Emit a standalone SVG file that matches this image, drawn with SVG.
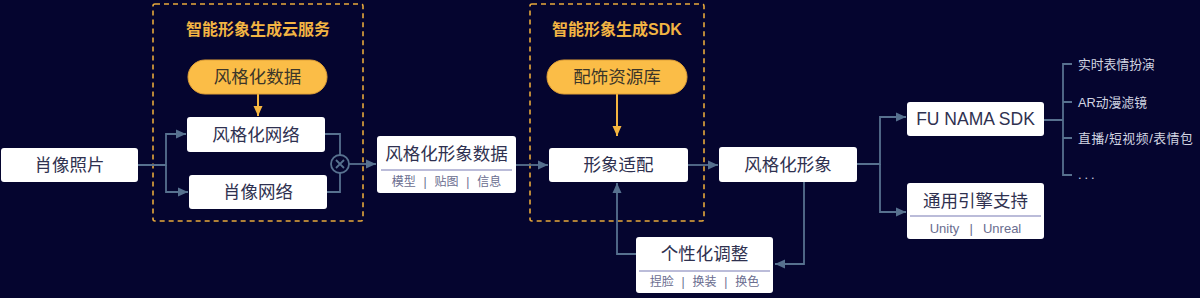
<svg xmlns="http://www.w3.org/2000/svg" width="1200" height="298" viewBox="0 0 1200 298">
<defs>
<marker id="arr" viewBox="0 0 10 10" refX="10" refY="5" markerWidth="10" markerHeight="10" markerUnits="userSpaceOnUse" orient="auto">
<path d="M0,0.5 L10,5 L0,9.5 Z" fill="#57718f"/>
</marker>
<marker id="arrO" viewBox="0 0 10 10" refX="10" refY="5" markerWidth="10" markerHeight="10" markerUnits="userSpaceOnUse" orient="auto">
<path d="M0,0.5 L10,5 L0,9.5 Z" fill="#f4b540"/>
</marker>
</defs>
<style>
text{font-family:"Liberation Sans","Noto Sans CJK SC",sans-serif;dominant-baseline:central;text-anchor:middle}
.box{fill:#ffffff;}
.pill{fill:#fbbd47;stroke:#e2a136;stroke-width:1}
.dash{fill:none;stroke:#e7a93b;stroke-width:1.6;stroke-dasharray:5 4}
.t{font-size:17.5px;fill:#2f3150}
.pt{font-size:17.5px;fill:#3c3629}
.gt{font-size:16px;font-weight:bold;fill:#f2b443}
.sub{font-size:12px;fill:#6a6d8f;word-spacing:4.5px}
.subl{font-size:13px;fill:#6a6d8f;word-spacing:6.5px}
.div{stroke:#a4a6cc;stroke-width:1.5}
.c{fill:none;stroke:#57718f;stroke-width:1.8}
.co{fill:none;stroke:#f4b540;stroke-width:2}
.li{font-size:12.8px;fill:#d2d5e2;text-anchor:start}
</style>
<rect width="1200" height="298" fill="#05052f"/>

<g id="cloud-group">
<rect class="dash" x="153" y="4" width="210" height="217" rx="2"/>
<text class="gt" x="258" y="29">智能形象生成云服务</text>
</g>
<g id="sdk-group">
<rect class="dash" x="530" y="4" width="174" height="217" rx="2"/>
<text class="gt" x="617" y="29">智能形象生成SDK</text>
</g>

<g id="connectors">
<path class="c" d="M138,165 H166 V134 H186" marker-end="url(#arr)"/>
<path class="c" d="M166,165 V192 H188" marker-end="url(#arr)"/>
<path class="c" d="M325,134 H340 V155"/>
<path class="c" d="M327,192 H340 V173"/>
<circle class="c" cx="340" cy="164" r="9"/>
<path class="c" d="M336,160 L344,168 M344,160 L336,168"/>
<path class="c" d="M349,164 H376" marker-end="url(#arr)"/>
<path class="co" d="M258,94 V116" marker-end="url(#arrO)"/>
<path class="c" d="M516,165 H548" marker-end="url(#arr)"/>
<path class="co" d="M617,94 V136" marker-end="url(#arrO)"/>
<path class="c" d="M688,165 H718" marker-end="url(#arr)"/>
<path class="c" d="M857,164 H880 V117 H906" marker-end="url(#arr)"/>
<path class="c" d="M880,164 V212 H906" marker-end="url(#arr)"/>
<path class="c" d="M804,182 V264 H775" marker-end="url(#arr)"/>
<path class="c" d="M636,254 H617 V183" marker-end="url(#arr)"/>
<path class="c" d="M1044,120 H1063 M1072,64 H1063 V175 H1072 M1063,102 H1072 M1063,138 H1072"/>
</g>

<g id="portrait-photo">
<rect class="box" x="1" y="148" width="137" height="34" rx="3"/>
<text class="t" x="69.5" y="165">肖像照片</text>
</g>
<g id="style-data">
<rect class="pill" x="188" y="60" width="139" height="34" rx="17"/>
<text class="pt" x="257.5" y="77">风格化数据</text>
</g>
<g id="style-net">
<rect class="box" x="187" y="117" width="138" height="35" rx="3"/>
<text class="t" x="256" y="134.5">风格化网络</text>
</g>
<g id="portrait-net">
<rect class="box" x="189" y="175" width="138" height="34" rx="3"/>
<text class="t" x="258" y="192">肖像网络</text>
</g>
<g id="style-avatar-data">
<rect class="box" x="377" y="136" width="139" height="57" rx="3"/>
<text class="t" x="446.5" y="154">风格化形象数据</text>
<line class="div" x1="381" y1="170" x2="512" y2="170"/>
<text class="sub" x="446.5" y="182">模型 | 贴图 | 信息</text>
</g>
<g id="accessory-lib">
<rect class="pill" x="547" y="60" width="140" height="34" rx="17"/>
<text class="pt" x="617" y="77">配饰资源库</text>
</g>
<g id="avatar-adapt">
<rect class="box" x="549" y="148" width="139" height="34" rx="3"/>
<text class="t" x="618.5" y="165">形象适配</text>
</g>
<g id="style-avatar">
<rect class="box" x="719" y="147" width="138" height="35" rx="3"/>
<text class="t" x="788" y="164.5">风格化形象</text>
</g>
<g id="personalize">
<rect class="box" x="636" y="237" width="137" height="56" rx="3"/>
<text class="t" x="704.5" y="254">个性化调整</text>
<line class="div" x1="639" y1="271" x2="770" y2="271"/>
<text class="sub" x="704.5" y="282">捏脸 | 换装 | 换色</text>
</g>
<g id="fu-nama">
<rect class="box" x="907" y="102" width="137" height="34" rx="3"/>
<text class="t" x="975.5" y="119">FU NAMA SDK</text>
</g>
<g id="engine">
<rect class="box" x="907" y="183" width="137" height="56" rx="3"/>
<text class="t" x="975.5" y="201">通用引擎支持</text>
<line class="div" x1="910" y1="216" x2="1041" y2="216"/>
<text class="subl" x="975.5" y="228">Unity | Unreal</text>
</g>
<g id="apps">
<text class="li" x="1078" y="64">实时表情扮演</text>
<text class="li" x="1078" y="102">AR动漫滤镜</text>
<text class="li" x="1078" y="138" style="letter-spacing:0.6px">直播/短视频/表情包</text>
<text class="li" x="1078" y="174" style="letter-spacing:3px">...</text>
</g>
</svg>
